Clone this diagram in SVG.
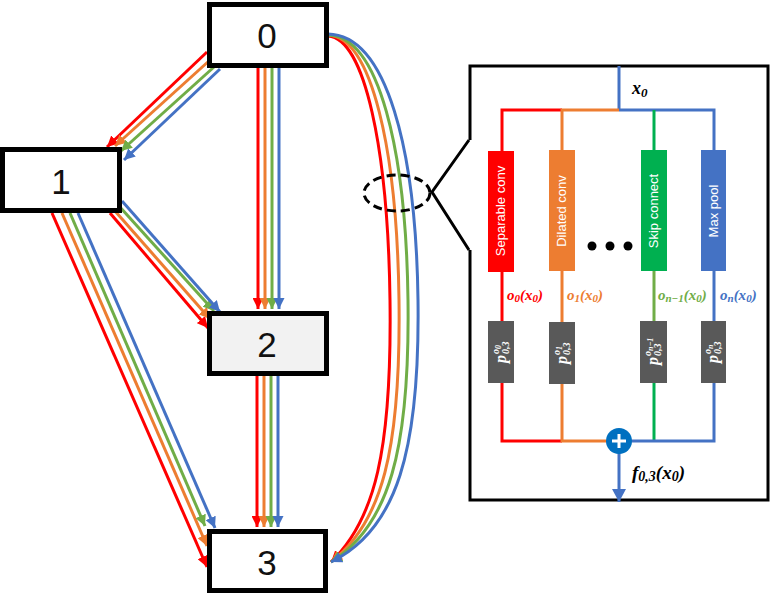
<svg xmlns="http://www.w3.org/2000/svg" width="771" height="607" viewBox="0 0 771 607">
<style>
.node{fill:#fff;stroke:#000;stroke-width:5}
.num{font-family:"Liberation Sans","Open Sans",sans-serif;font-size:35px;fill:#111;text-anchor:middle}
.e{fill:none;stroke-width:3}
.r{stroke:#FF0000}.o{stroke:#ED7D31}.g{stroke:#70AD47}.b{stroke:#4472C4}.gg{stroke:#00B050}
.op{font-family:"Liberation Sans","Open Sans",sans-serif;font-size:13px;fill:#fff;text-anchor:middle}
.math{font-family:"Liberation Serif","DejaVu Serif",serif;font-weight:bold;font-style:italic}
.pb{fill:#595959}
.pt{font-family:"Liberation Serif","DejaVu Serif",serif;font-weight:bold;font-style:italic;fill:#fff}
</style>
<defs>
<marker id="ar" markerUnits="userSpaceOnUse" markerWidth="12" markerHeight="11" refX="11" refY="5.5" orient="auto"><path d="M0,0 L11,5.5 L0,11 z" fill="#FF0000"/></marker>
<marker id="ao" markerUnits="userSpaceOnUse" markerWidth="12" markerHeight="11" refX="11" refY="5.5" orient="auto"><path d="M0,0 L11,5.5 L0,11 z" fill="#ED7D31"/></marker>
<marker id="ag" markerUnits="userSpaceOnUse" markerWidth="12" markerHeight="11" refX="11" refY="5.5" orient="auto"><path d="M0,0 L11,5.5 L0,11 z" fill="#70AD47"/></marker>
<marker id="ab" markerUnits="userSpaceOnUse" markerWidth="12" markerHeight="11" refX="11" refY="5.5" orient="auto"><path d="M0,0 L11,5.5 L0,11 z" fill="#4472C4"/></marker>
<marker id="abig" markerUnits="userSpaceOnUse" markerWidth="14" markerHeight="14" refX="13" refY="7" orient="auto"><path d="M0,0 L13,7 L0,14 z" fill="#4472C4"/></marker>
</defs>

<g id="connectors">
  <!-- 0 -> 1 -->
  <path class="e r" d="M207,52 L107,147" marker-end="url(#ar)"/>
  <path class="e o" d="M210,60 L115,146" marker-end="url(#ao)"/>
  <path class="e g" d="M214,67 L121,151" marker-end="url(#ag)"/>
  <path class="e b" d="M220,69 L124,160" marker-end="url(#ab)"/>
  <!-- 0 -> 2 -->
  <path class="e r" d="M258,68 L258,309" marker-end="url(#ar)"/>
  <path class="e o" d="M265,68 L265,309" marker-end="url(#ao)"/>
  <path class="e g" d="M272,68 L272,309" marker-end="url(#ag)"/>
  <path class="e b" d="M279,68 L279,309" marker-end="url(#ab)"/>
  <!-- 1 -> 2 -->
  <path class="e r" d="M110,213 L208,328" marker-end="url(#ar)"/>
  <path class="e o" d="M115,211 L210,319" marker-end="url(#ao)"/>
  <path class="e g" d="M119,206 L214,311" marker-end="url(#ag)"/>
  <path class="e b" d="M122,201 L220,312" marker-end="url(#ab)"/>
  <!-- 1 -> 3 -->
  <path class="e r" d="M52,213 L207,567" marker-end="url(#ar)"/>
  <path class="e o" d="M62,213 L207,546" marker-end="url(#ao)"/>
  <path class="e g" d="M70,213 L205,526" marker-end="url(#ag)"/>
  <path class="e b" d="M78,213 L215,528" marker-end="url(#ab)"/>
  <!-- 2 -> 3 -->
  <path class="e r" d="M257,376 L257,527" marker-end="url(#ar)"/>
  <path class="e o" d="M264,376 L264,527" marker-end="url(#ao)"/>
  <path class="e g" d="M271,376 L271,527" marker-end="url(#ag)"/>
  <path class="e b" d="M278,376 L278,527" marker-end="url(#ab)"/>
  <!-- 0 -> 3 curves -->
  <path class="e r" d="M328,36 C365,38 388,150 390,300 C392,450 375,520 331,562" marker-end="url(#ar)"/>
  <path class="e o" d="M328,35 C372,37 397,150 399,300 C401,450 382,523 331,562" marker-end="url(#ao)"/>
  <path class="e g" d="M328,35 C379,36 406,150 408,300 C410,450 389,526 331,562" marker-end="url(#ag)"/>
  <path class="e b" d="M328,34 C387,35 416,150 418,300 C420,450 397,530 331,562" marker-end="url(#ab)"/>
</g>

<g id="node0"><rect class="node" x="209.5" y="4.5" width="117" height="61"/><text class="num" x="267" y="48">0</text></g>
<g id="node1"><rect class="node" x="2.5" y="149.5" width="117" height="61"/><text class="num" x="61" y="194">1</text></g>
<g id="node2"><rect class="node" x="209.5" y="313.5" width="117" height="60" style="fill:#F2F2F2"/><text class="num" x="267" y="357">2</text></g>
<g id="node3"><rect class="node" x="209.5" y="531.5" width="116" height="59"/><text class="num" x="267" y="575">3</text></g>

<g id="zoom">
  <ellipse cx="397" cy="193" rx="33" ry="18" fill="none" stroke="#000" stroke-width="3" stroke-dasharray="9,5"/>
  <path d="M469,140 L432,192 L469,250" fill="none" stroke="#000" stroke-width="3"/>
</g>

<g id="panel">
  <path d="M470,140 L470,66 L768,66 L768,500 L470,500 L470,250" fill="none" stroke="#000" stroke-width="3"/>
  <!-- input -->
  <path class="e b" d="M619,66 L619,110"/>
  <path class="e r" d="M502,151 L502,110 L562,110"/>
  <path class="e o" d="M562,151 L562,110 L619,110"/>
  <path class="e b" d="M619,110 L714,110 L714,151"/>
  <path class="e gg" d="M654,110 L654,151"/>
  <text class="math" x="632" y="94" font-size="18">x<tspan font-size="13" dy="3">0</tspan></text>

  <g id="op-sep"><rect x="488" y="151" width="26" height="121" fill="#FF0000"/><text class="op" transform="translate(505,211) rotate(-90)">Separable conv</text></g>
  <g id="op-dil"><rect x="549" y="150" width="26" height="121" fill="#ED7D31"/><text class="op" transform="translate(566,211) rotate(-90)">Dilated conv</text></g>
  <g id="op-skip"><rect x="641" y="150" width="26" height="121" fill="#00B050"/><text class="op" transform="translate(658,211) rotate(-90)">Skip connect</text></g>
  <g id="op-max"><rect x="701" y="150" width="25" height="121" fill="#4472C4"/><text class="op" transform="translate(718,211) rotate(-90)">Max pool</text></g>

  <circle cx="592" cy="246" r="4.5" fill="#000"/>
  <circle cx="610" cy="246" r="4.5" fill="#000"/>
  <circle cx="628" cy="246" r="4.5" fill="#000"/>

  <path class="e r" d="M502,272 L502,322"/>
  <path class="e o" d="M562,271 L562,322"/>
  <path class="e g" d="M654,271 L654,322"/>
  <path class="e b" d="M714,271 L714,322"/>

  <text class="math" x="507" y="300" font-size="15" fill="#FF0000">o<tspan font-size="11" dy="2">0</tspan><tspan dy="-2">(x</tspan><tspan font-size="11" dy="2">0</tspan><tspan dy="-2">)</tspan></text>
  <text class="math" x="567" y="300" font-size="15" fill="#ED7D31">o<tspan font-size="11" dy="2">1</tspan><tspan dy="-2">(x</tspan><tspan font-size="11" dy="2">0</tspan><tspan dy="-2">)</tspan></text>
  <text class="math" x="658" y="300" font-size="15" fill="#70AD47">o<tspan font-size="11" dy="2">n−1</tspan><tspan dy="-2">(x</tspan><tspan font-size="11" dy="2">0</tspan><tspan dy="-2">)</tspan></text>
  <text class="math" x="720" y="300" font-size="15" fill="#4472C4">o<tspan font-size="11" dy="2">n</tspan><tspan dy="-2">(x</tspan><tspan font-size="11" dy="2">0</tspan><tspan dy="-2">)</tspan></text>

  <g id="p0"><rect class="pb" x="488" y="321" width="26" height="62"/>
    <g transform="translate(501,352) rotate(-90)"><text class="pt" x="-11" y="5" font-size="16">p</text><text class="pt" x="-2" y="-2" font-size="10">o<tspan font-size="8" dy="2">0</tspan></text><text class="pt" x="-2" y="8" font-size="10">0,3</text></g></g>
  <g id="p1"><rect class="pb" x="549" y="322" width="26" height="62"/>
    <g transform="translate(562,353) rotate(-90)"><text class="pt" x="-11" y="5" font-size="16">p</text><text class="pt" x="-2" y="-2" font-size="10">o<tspan font-size="8" dy="2">1</tspan></text><text class="pt" x="-2" y="8" font-size="10">0,3</text></g></g>
  <g id="pn1"><rect class="pb" x="640" y="321" width="27" height="62"/>
    <g transform="translate(653,352) rotate(-90)"><text class="pt" x="-13" y="5" font-size="16">p</text><text class="pt" x="-4" y="-2" font-size="10">o<tspan font-size="8" dy="2">n−1</tspan></text><text class="pt" x="-4" y="8" font-size="10">0,3</text></g></g>
  <g id="pn"><rect class="pb" x="701" y="321" width="25" height="62"/>
    <g transform="translate(713,352) rotate(-90)"><text class="pt" x="-11" y="5" font-size="16">p</text><text class="pt" x="-2" y="-2" font-size="10">o<tspan font-size="8" dy="2">n</tspan></text><text class="pt" x="-2" y="8" font-size="10">0,3</text></g></g>

  <path class="e r" d="M502,383 L502,441 L562,441"/>
  <path class="e o" d="M562,384 L562,441 L610,441"/>
  <path class="e gg" d="M654,383 L654,441"/>
  <path class="e b" d="M714,383 L714,441 L630,441"/>
  <path class="e b" d="M619,452 L619,502" marker-end="url(#abig)"/>
  <g id="sum"><circle cx="619" cy="441" r="13" fill="#0070C0"/><path d="M619,434 L619,448 M612,441 L626,441" stroke="#fff" stroke-width="3"/></g>
  <text class="math" x="632" y="479" font-size="19">f<tspan font-size="14" dy="2">0,3</tspan><tspan dy="-2">(x</tspan><tspan font-size="14" dy="2">0</tspan><tspan dy="-2">)</tspan></text>
</g>
</svg>
